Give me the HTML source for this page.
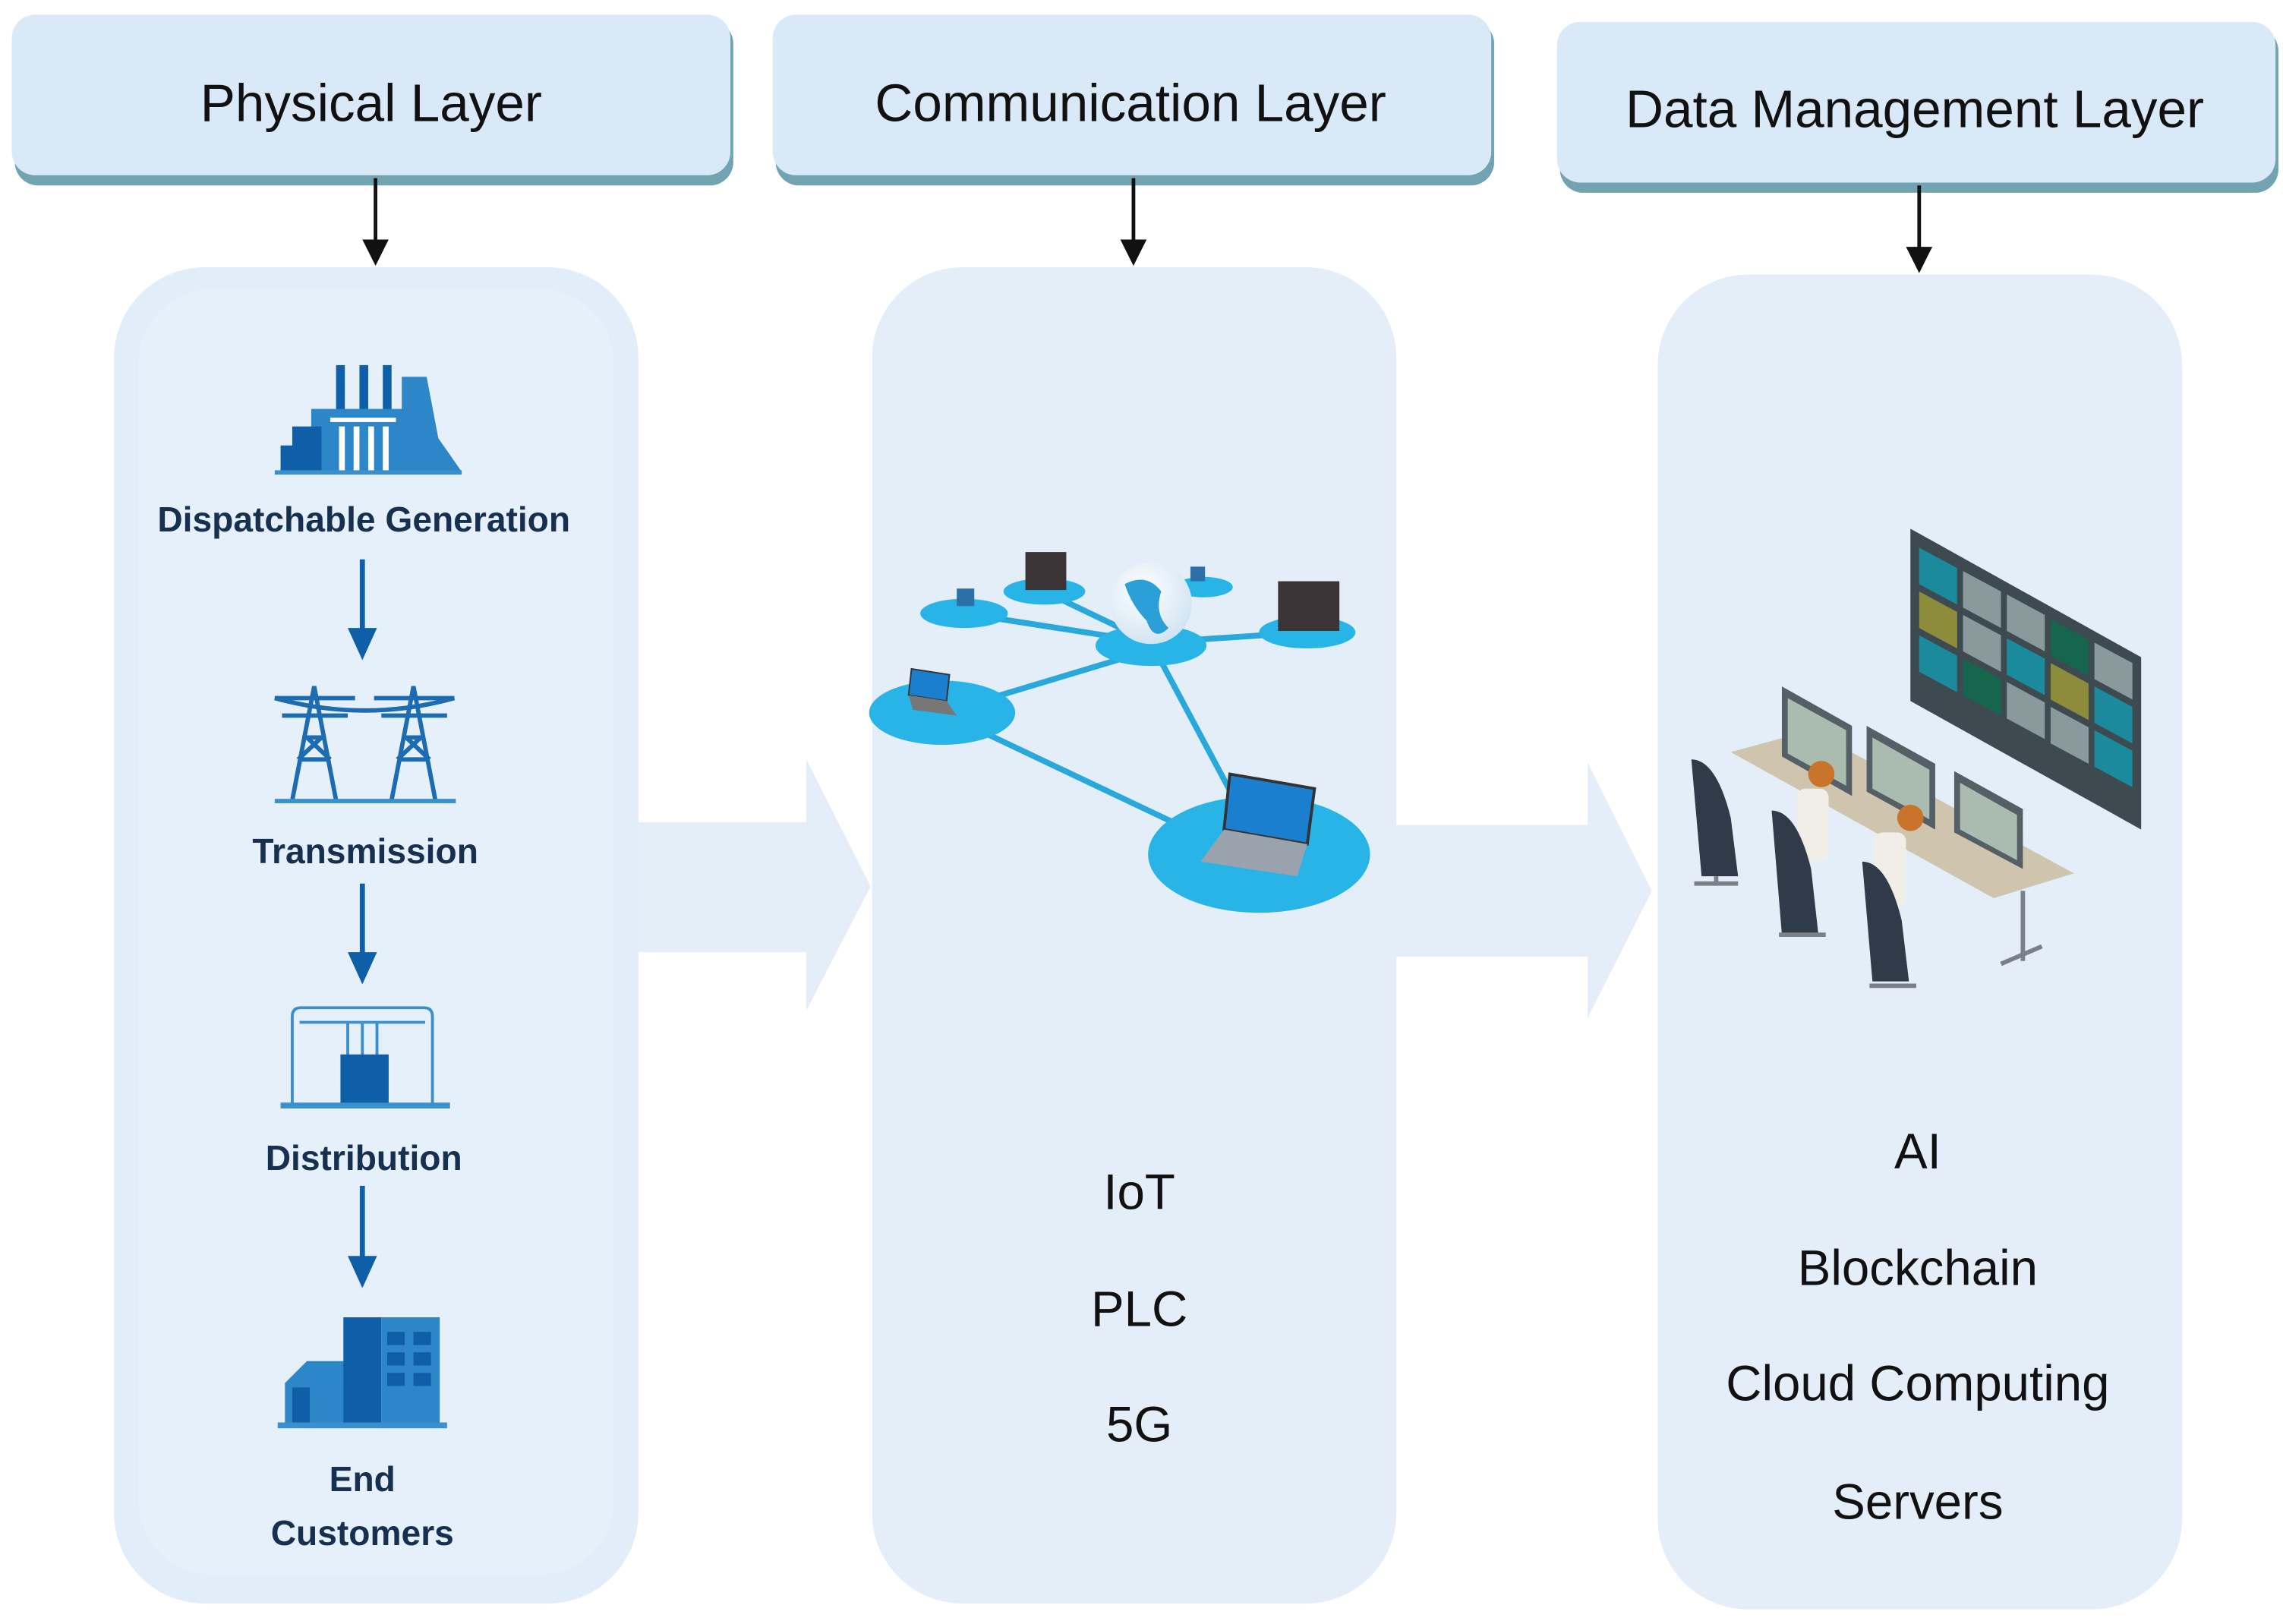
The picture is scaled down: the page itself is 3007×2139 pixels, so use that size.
<!DOCTYPE html>
<html><head><meta charset="utf-8"><style>
html,body{margin:0;padding:0;background:#fff;width:3007px;height:2139px;overflow:hidden}
svg{display:block}
text{font-family:"Liberation Sans",sans-serif}
</style></head><body>
<svg width="3007" height="2139" viewBox="0 0 1563 1112" xmlns="http://www.w3.org/2000/svg">
<defs><radialGradient id="g" cx="0.4" cy="0.35" r="0.7"><stop offset="0" stop-color="#fff"/><stop offset="1" stop-color="#cfe3f2"/></radialGradient></defs>
<!-- headers -->
<g>
<rect x="10" y="14" width="492" height="113" rx="16" fill="#72a3b3"/>
<rect x="8" y="10" width="492" height="110" rx="16" fill="#d9e9f7"/>
<rect x="531" y="14" width="492" height="113" rx="16" fill="#72a3b3"/>
<rect x="529" y="10" width="492" height="110" rx="16" fill="#d9e9f7"/>
<rect x="1068" y="19" width="492" height="113" rx="16" fill="#72a3b3"/>
<rect x="1066" y="15" width="492" height="110" rx="16" fill="#d9e9f7"/>
<text x="254" y="83" font-size="36" text-anchor="middle" fill="#111">Physical Layer</text>
<text x="774" y="83" font-size="36" text-anchor="middle" fill="#111">Communication Layer</text>
<text x="1311" y="87" font-size="36" text-anchor="middle" fill="#111">Data Management Layer</text>
</g>
<!-- small arrows -->
<g stroke="#111" stroke-width="2.5"><line x1="257" y1="122" x2="257" y2="168"/><line x1="776" y1="122" x2="776" y2="168"/><line x1="1314" y1="127" x2="1314" y2="173"/></g>
<g fill="#111"><polygon points="248,164 266,164 257,182"/><polygon points="767,164 785,164 776,182"/><polygon points="1305,169 1323,169 1314,187"/></g>
<!-- big arrows -->
<polygon points="430,563 552,563 552,520 596,607 552,692 552,652 430,652" fill="#e3eef9"/>
<polygon points="950,565 1087,565 1087,522 1131,610 1087,697 1087,655 950,655" fill="#e3eef9"/>
<!-- panels -->
<rect x="78" y="183" width="359" height="915" rx="62" fill="#e1edf9"/>
<rect x="95" y="198" width="325" height="880" rx="50" fill="#e5f0fa"/>
<rect x="597" y="183" width="359" height="915" rx="62" fill="#e3eef9"/>
<rect x="1135" y="188" width="359" height="914" rx="62" fill="#e3eef9"/>
<!-- physical icons -->
<g fill="#0f5fa8">
<rect x="230" y="250" width="6" height="40"/><rect x="246" y="250" width="6" height="40"/><rect x="262" y="250" width="6" height="40"/>
<polygon points="275,258 292,258 300,300 316,323 275,323" fill="#2c86c8"/>
<rect x="213" y="280" width="70" height="43" fill="#2c86c8"/>
<rect x="200" y="292" width="20" height="31"/><rect x="192" y="305" width="15" height="18"/>
<rect x="188" y="322" width="128" height="3" fill="#3a8fcf"/>
</g>
<g fill="#fff"><rect x="232" y="292" width="4" height="30"/><rect x="242" y="292" width="4" height="30"/><rect x="252" y="292" width="4" height="30"/><rect x="262" y="292" width="4" height="30"/><rect x="226" y="286" width="45" height="3"/></g>
<text x="249" y="364" font-size="24" font-weight="bold" text-anchor="middle" fill="#17304f">Dispatchable Generation</text>
<g stroke="#0f5fa8" stroke-width="3.5"><line x1="248" y1="383" x2="248" y2="432"/><line x1="248" y1="605" x2="248" y2="654"/><line x1="248" y1="812" x2="248" y2="862"/></g>
<g fill="#0f5fa8"><polygon points="238,430 258,430 248,452"/><polygon points="238,652 258,652 248,674"/><polygon points="238,860 258,860 248,882"/></g>
<g stroke="#1d6bb0" stroke-width="3" fill="none">
<path d="M200,548 L215,470 L230,548 M188,478 L243,478 M193,490 L238,490 M207,505 L223,505 M204,520 L226,520 M210,505 L226,520 M220,505 L204,520"/>
<path d="M268,548 L283,470 L298,548 M256,478 L311,478 M261,490 L306,490 M275,505 L291,505 M272,520 L294,520 M278,505 L294,520 M288,505 L272,520"/>
<path d="M188,478 Q250,495 311,478"/>
</g>
<rect x="188" y="547" width="124" height="3" fill="#3a8fcf"/>
<text x="250" y="591" font-size="24" font-weight="bold" text-anchor="middle" fill="#17304f">Transmission</text>
<g stroke="#3a8fcf" stroke-width="2" fill="none"><path d="M200,756 L200,696 Q200,690 206,690 L290,690 Q296,690 296,696 L296,756"/><line x1="205" y1="700" x2="291" y2="700"/><line x1="238" y1="700" x2="238" y2="725"/><line x1="248" y1="700" x2="248" y2="725"/><line x1="258" y1="700" x2="258" y2="725"/></g>
<rect x="233" y="722" width="33" height="34" fill="#0f5fa8"/>
<rect x="192" y="755" width="116" height="4" fill="#3a8fcf"/>
<text x="249" y="801" font-size="24" font-weight="bold" text-anchor="middle" fill="#17304f">Distribution</text>
<polygon points="195,947 210,932 243,932 243,975 195,975" fill="#2c86c8"/>
<rect x="235" y="902" width="26" height="73" fill="#0f5fa8"/>
<rect x="261" y="902" width="40" height="73" fill="#2c86c8"/>
<g fill="#0f5fa8"><rect x="265" y="912" width="12" height="9"/><rect x="283" y="912" width="12" height="9"/><rect x="265" y="926" width="12" height="9"/><rect x="283" y="926" width="12" height="9"/><rect x="265" y="940" width="12" height="9"/><rect x="283" y="940" width="12" height="9"/><rect x="200" y="950" width="12" height="25"/></g>
<rect x="190" y="974" width="116" height="4" fill="#3a8fcf"/>
<text x="248" y="1021" font-size="24" font-weight="bold" text-anchor="middle" fill="#17304f">End</text>
<text x="248" y="1058" font-size="24" font-weight="bold" text-anchor="middle" fill="#17304f">Customers</text>
<!-- network -->
<g stroke="#2aa8dc" stroke-width="4"><line x1="645" y1="488" x2="788" y2="445"/><line x1="645" y1="488" x2="860" y2="590"/><line x1="788" y1="440" x2="860" y2="575"/><line x1="660" y1="420" x2="788" y2="440"/><line x1="715" y1="405" x2="788" y2="440"/><line x1="820" y1="400" x2="788" y2="440"/><line x1="895" y1="433" x2="788" y2="440"/></g>
<g fill="#29b4e8">
<ellipse cx="645" cy="488" rx="50" ry="22"/><ellipse cx="862" cy="585" rx="76" ry="40"/>
<ellipse cx="788" cy="442" rx="38" ry="14"/><ellipse cx="660" cy="420" rx="30" ry="10"/><ellipse cx="715" cy="405" rx="28" ry="9"/><ellipse cx="824" cy="402" rx="20" ry="7"/><ellipse cx="895" cy="433" rx="33" ry="11"/>
</g>
<circle cx="788" cy="413" r="28" fill="url(#g)"/>
<path d="M770,400 Q785,392 795,405 Q790,420 800,430 Q790,440 785,425 Q775,415 770,400Z" fill="#2a9fd8"/>
<g fill="#3b3436"><rect x="702" y="378" width="28" height="26"/><rect x="875" y="398" width="42" height="34"/></g>
<polygon points="842,530 900,540 895,578 838,568" fill="#1b7fd0" stroke="#333" stroke-width="2"/>
<polygon points="838,568 895,578 888,600 822,590" fill="#9aa3ad"/>
<polygon points="624,458 650,462 648,480 622,476" fill="#1b7fd0" stroke="#333" stroke-width="1"/>
<polygon points="622,476 648,480 655,490 625,486" fill="#777"/>
<rect x="655" y="403" width="12" height="12" fill="#2d6fa8"/><rect x="815" y="388" width="10" height="10" fill="#2d6fa8"/>
<!-- control room -->
<polygon points="1308,362 1466,450 1466,568 1308,480" fill="#3d4a50"/>
<g fill="#8a9a9c">
<polygon points="1314,375 1340,389 1340,414 1314,400" fill="#1b8a9c"/><polygon points="1344,391 1370,405 1370,430 1344,416"/><polygon points="1374,407 1400,421 1400,446 1374,432" fill="#8a9a9c"/><polygon points="1404,424 1430,438 1430,463 1404,449" fill="#16664e"/><polygon points="1434,440 1460,454 1460,479 1434,465"/>
<polygon points="1314,405 1340,419 1340,444 1314,430" fill="#8c8c3a"/><polygon points="1344,421 1370,435 1370,460 1344,446"/><polygon points="1374,437 1400,451 1400,476 1374,462" fill="#1b8a9c"/><polygon points="1404,454 1430,468 1430,493 1404,479" fill="#8c8c3a"/><polygon points="1434,470 1460,484 1460,509 1434,495" fill="#1b8a9c"/>
<polygon points="1314,435 1340,449 1340,474 1314,460" fill="#1b8a9c"/><polygon points="1344,451 1370,465 1370,490 1344,476" fill="#16664e"/><polygon points="1374,467 1400,481 1400,506 1374,492"/><polygon points="1404,484 1430,498 1430,523 1404,509"/><polygon points="1434,500 1460,514 1460,539 1434,525" fill="#1b8a9c"/>
</g>
<polygon points="1185,515 1240,500 1420,598 1365,615" fill="#cfc4ad"/>
<g fill="#555f66"><polygon points="1220,470 1268,497 1268,545 1220,518"/><polygon points="1278,497 1325,523 1325,568 1278,542"/><polygon points="1338,528 1385,554 1385,595 1338,570"/></g>
<g fill="#aabbb0"><polygon points="1224,478 1264,500 1264,538 1224,516"/><polygon points="1282,505 1321,527 1321,561 1282,540"/><polygon points="1342,536 1381,558 1381,589 1342,568"/></g>
<g fill="#f0eee6"><rect x="1230" y="540" width="22" height="50" rx="6"/><rect x="1283" y="570" width="22" height="50" rx="6"/></g>
<g fill="#c8742a"><circle cx="1247" cy="530" r="9"/><circle cx="1308" cy="560" r="9"/></g>
<g fill="#2f3b48"><path d="M1158,520 Q1175,520 1185,560 L1190,600 L1165,600 Z"/><path d="M1213,555 Q1230,555 1240,595 L1245,640 L1220,640 Z"/><path d="M1275,590 Q1292,590 1302,630 L1307,672 L1282,672 Z"/></g>
<g stroke="#7a8088" stroke-width="3"><line x1="1175" y1="600" x2="1175" y2="605"/><line x1="1160" y1="605" x2="1190" y2="605"/><line x1="1218" y1="640" x2="1250" y2="640"/><line x1="1280" y1="675" x2="1312" y2="675"/><line x1="1385" y1="610" x2="1385" y2="658"/><line x1="1370" y1="660" x2="1398" y2="648"/></g>
<!-- lists -->
<g font-size="34" text-anchor="middle" fill="#111">
<text x="780" y="828">IoT</text><text x="780" y="908">PLC</text><text x="780" y="987">5G</text>
<text x="1313" y="800">AI</text><text x="1313" y="880">Blockchain</text><text x="1313" y="959">Cloud Computing</text><text x="1313" y="1040">Servers</text>
</g>
</svg>
</body></html>
